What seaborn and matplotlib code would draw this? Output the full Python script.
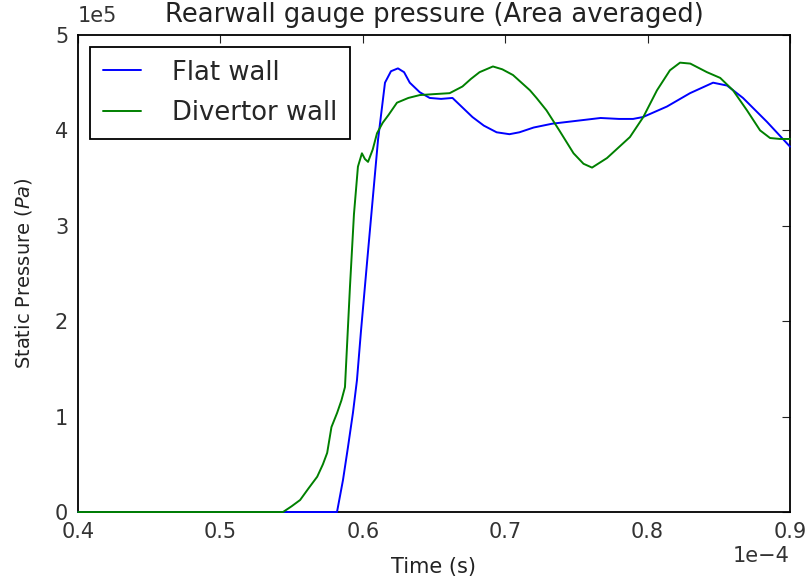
import matplotlib
matplotlib.use("Agg")
import matplotlib.pyplot as plt
import seaborn as sns
import pandas as pd

# Time in units of 1e-4 s, area-averaged rear-wall gauge pressure in units of 1e5 Pa
flat_t = [0.40, 0.50, 0.560, 0.5819, 0.5861, 0.5896, 0.5931, 0.5959, 0.5987, 0.6029,
          0.6071, 0.6107, 0.6156, 0.6198, 0.6247, 0.629, 0.633, 0.640, 0.647, 0.655,
          0.663, 0.670, 0.677, 0.685, 0.694, 0.703, 0.710, 0.720, 0.733, 0.750,
          0.767, 0.780, 0.7898, 0.7968, 0.8136, 0.8298, 0.846, 0.8558, 0.867, 0.8838,
          0.900]
flat_p = [0.0, 0.0, 0.0, 0.0, 0.335, 0.68, 1.04, 1.38, 1.89, 2.60,
          3.30, 3.90, 4.50, 4.62, 4.65, 4.61, 4.50, 4.40, 4.34, 4.33,
          4.34, 4.24, 4.14, 4.05, 3.98, 3.96, 3.98, 4.03, 4.07, 4.10,
          4.13, 4.12, 4.12, 4.14, 4.25, 4.39, 4.50, 4.47, 4.34, 4.09,
          3.83]

div_t = [0.40, 0.50, 0.544, 0.550, 0.556, 0.562, 0.568, 0.572, 0.575, 0.578,
         0.582, 0.585, 0.5875, 0.591, 0.5938, 0.5966, 0.5994, 0.6015, 0.6037, 0.607,
         0.610, 0.614, 0.618, 0.624, 0.632, 0.640, 0.650, 0.661, 0.670, 0.676,
         0.682, 0.6914, 0.698, 0.7055, 0.7174, 0.722, 0.729, 0.738, 0.748, 0.755,
         0.761, 0.7715, 0.7876, 0.797, 0.8066, 0.8157, 0.8228, 0.830, 0.8417, 0.851,
         0.860, 0.8698, 0.879, 0.886, 0.893, 0.900]
div_p = [0.0, 0.0, 0.0, 0.06, 0.126, 0.25, 0.37, 0.50, 0.62, 0.89,
         1.04, 1.17, 1.31, 2.36, 3.12, 3.62, 3.76, 3.70, 3.67, 3.80,
         3.97, 4.08, 4.16, 4.29, 4.34, 4.37, 4.38, 4.39, 4.46, 4.54,
         4.61, 4.67, 4.64, 4.58, 4.42, 4.34, 4.21, 4.00, 3.76, 3.65,
         3.61, 3.71, 3.93, 4.14, 4.42, 4.63, 4.71, 4.70, 4.61, 4.55,
         4.42, 4.21, 4.00, 3.92, 3.91, 3.91]

labels = ["Flat wall", "Divertor wall"]
colors = ["#0000ff", "#008000"]

df = pd.concat([
    pd.DataFrame({"t": [v * 1e-4 for v in flat_t], "p": [v * 1e5 for v in flat_p], "case": labels[0]}),
    pd.DataFrame({"t": [v * 1e-4 for v in div_t], "p": [v * 1e5 for v in div_p], "case": labels[1]}),
], ignore_index=True)

sns.set_style("white")
plt.rcParams["font.family"] = ["DejaVu Sans"]
plt.rcParams["mathtext.fontset"] = "dejavusans"

fig = plt.figure(figsize=(8.08, 5.8), dpi=100)
ax = fig.add_axes([0.0965, 0.1172, 0.8812, 0.8225])

sns.lineplot(data=df, x="t", y="p", hue="case", palette=colors,
             linewidth=1.4, sort=False, estimator=None, ax=ax)
for line in ax.get_lines():
    line.set_zorder(3)
    line.set_clip_on(False)

ax.set_xlim(0.4e-4, 0.9e-4)
ax.set_ylim(0, 5e5)
ax.set_xticks([v * 1e-4 for v in [0.4, 0.5, 0.6, 0.7, 0.8, 0.9]])
ax.set_yticks([v * 1e5 for v in [0, 1, 2, 3, 4, 5]])
ax.ticklabel_format(axis="x", style="sci", scilimits=(-4, -4))
ax.ticklabel_format(axis="y", style="sci", scilimits=(5, 5))

for s in ax.spines.values():
    s.set_visible(True)
    s.set_color("black")
    s.set_linewidth(1.3)
ax.tick_params(direction="in", length=6, width=0.8, top=True, right=True,
               labelsize=15, pad=7, colors="#222222", labelcolor="#333333")
ax.xaxis.get_offset_text().set_fontsize(15)
ax.yaxis.get_offset_text().set_fontsize(15)
ax.yaxis.OFFSETTEXTPAD = 9

ax.set_title("Rearwall gauge pressure (Area averaged)", fontsize=18.6, color="#222222", pad=9)
ax.set_xlabel("Time (s)", fontsize=15, color="#222222", labelpad=11)
ax.set_ylabel("Static Pressure ($Pa$)", fontsize=14, color="#222222", labelpad=15)

leg = ax.legend(loc="upper left", fontsize=18.6, frameon=True, fancybox=False,
                borderpad=0.5, borderaxespad=0.45, handlelength=1.5,
                handletextpad=1.2, labelspacing=0.55)
leg.get_frame().set_edgecolor("black")
leg.get_frame().set_linewidth(1.3)
leg.get_frame().set_alpha(1)
for line in leg.get_lines():
    line.set_linewidth(1.4)

fig.savefig("out.png", dpi=100)
